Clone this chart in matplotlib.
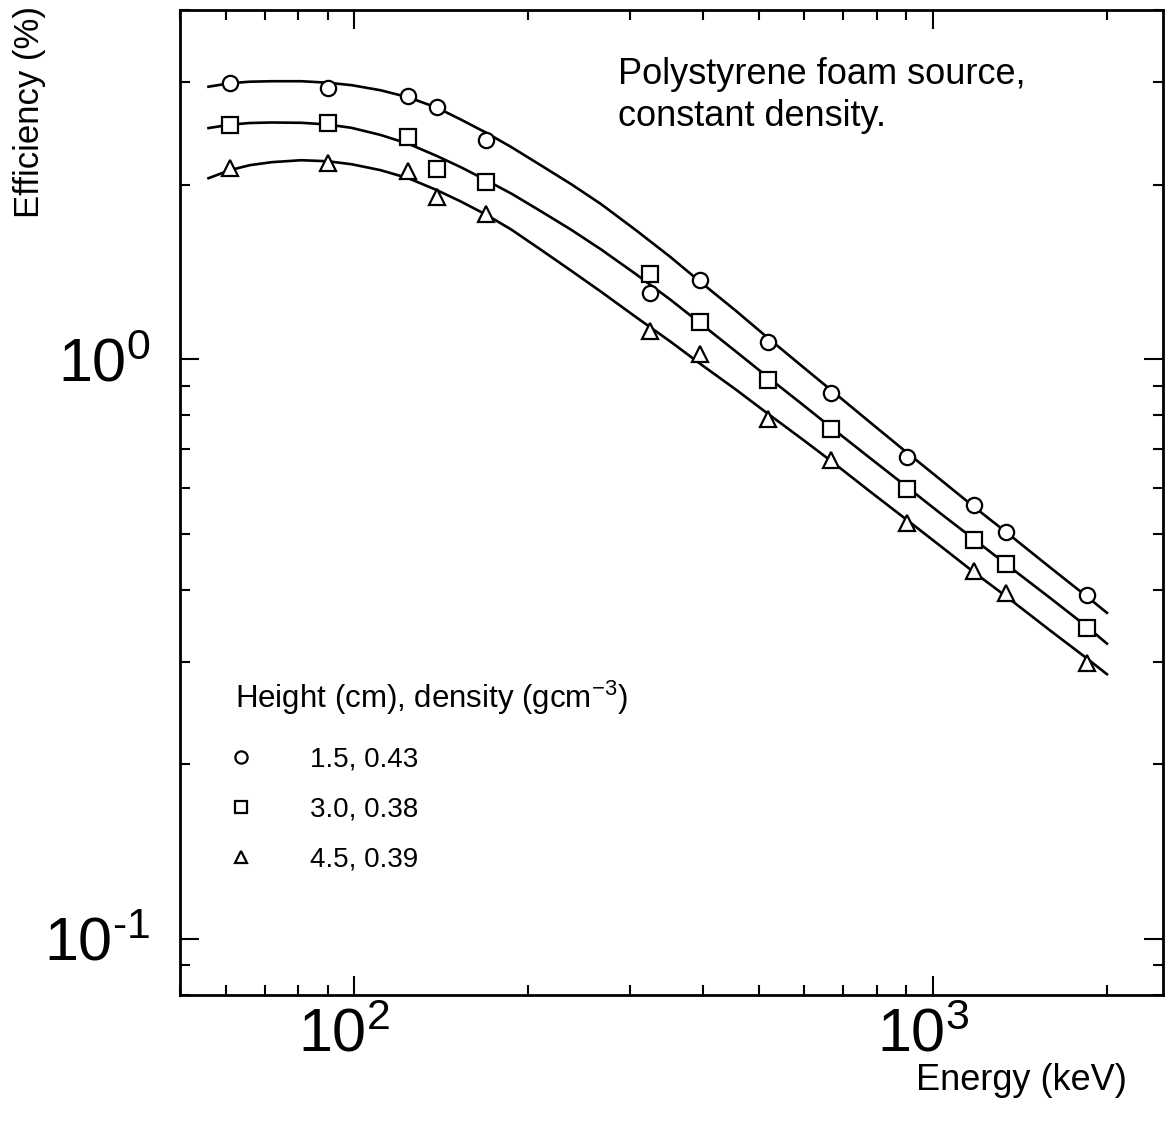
import numpy as np
import matplotlib
matplotlib.use("Agg")
import matplotlib.pyplot as plt
from matplotlib.ticker import LogLocator, NullFormatter, FuncFormatter
from matplotlib.transforms import ScaledTranslation

plt.rcParams['font.family'] = ['Liberation Sans', 'DejaVu Sans']
plt.rcParams['mathtext.default'] = 'regular'

# Gamma-ray energies of the calibration lines (keV)
energy = [61, 90, 124, 139, 169, 324, 396, 518, 667, 902, 1180, 1340, 1845]

# Measured full-energy-peak efficiencies (%) for each source height
eff_15 = [2.99, 2.93, 2.84, 2.72, 2.39, 1.30, 1.37, 1.07, 0.874, 0.678, 0.560, 0.503, 0.392]
eff_30 = [2.53, 2.55, 2.42, 2.13, 2.02, 1.40, 1.158, 0.920, 0.758, 0.597, 0.487, 0.443, 0.344]
eff_45 = [2.14, 2.18, 2.11, 1.90, 1.78, 1.118, 1.02, 0.788, 0.670, 0.521, 0.431, 0.395, 0.299]

# Fitted efficiency curves
fit_energy = [56, 61, 66, 72, 81, 90, 99, 111, 124, 139, 153, 169, 187, 210, 237, 267, 306, 352,
              396, 456, 517, 590, 670, 779, 902, 1028, 1181, 1342, 1591, 1843, 2000]
fit_15 = [2.950, 2.991, 3.009, 3.015, 3.015, 2.997, 2.968, 2.909, 2.829, 2.714, 2.588, 2.458,
          2.320, 2.160, 2.004, 1.851, 1.672, 1.500, 1.360, 1.213, 1.091, 0.978, 0.881, 0.778,
          0.690, 0.621, 0.555, 0.502, 0.438, 0.390, 0.365]
fit_30 = [2.503, 2.537, 2.554, 2.559, 2.556, 2.539, 2.505, 2.436, 2.352, 2.240, 2.142, 2.035,
          1.929, 1.800, 1.672, 1.546, 1.404, 1.266, 1.154, 1.032, 0.933, 0.841, 0.760, 0.675,
          0.602, 0.543, 0.488, 0.442, 0.388, 0.346, 0.323]
fit_45 = [2.051, 2.118, 2.160, 2.186, 2.203, 2.194, 2.168, 2.118, 2.051, 1.956, 1.869, 1.775,
          1.672, 1.545, 1.421, 1.307, 1.184, 1.072, 0.982, 0.887, 0.807, 0.732, 0.665, 0.591,
          0.528, 0.477, 0.428, 0.389, 0.341, 0.305, 0.286]

labels = ['1.5, 0.43', '3.0, 0.38', '4.5, 0.39']
markers = ['o', 's', '^']


def decade_label(v, pos):
    # plain hyphen in the exponent, as in the printed axis
    exp = int(round(np.log10(v)))
    return '$10^{%s}$' % str(exp).replace('-', '\u2010')


fig = plt.figure(figsize=(11.69, 11.28), dpi=100)
ax = fig.add_axes([0.154, 0.1179, 0.8409, 0.8732])
ax.set_xscale('log')
ax.set_yscale('log')

for fit in (fit_15, fit_30, fit_45):
    ax.plot(fit_energy, fit, color='black', lw=1.9, solid_joinstyle='round', zorder=2)

for eff, mk, lab in zip((eff_15, eff_30, eff_45), markers, labels):
    ax.plot(energy, eff, linestyle='none', marker=mk, ms=11, mfc='white', mec='black',
            mew=1.6, label=lab, zorder=3)

ax.set_xlim(50, 2500)
ax.set_ylim(0.08, 4.0)

# Ticks inside on all four sides
for axis in (ax.xaxis, ax.yaxis):
    axis.set_major_locator(LogLocator(base=10))
    axis.set_minor_locator(LogLocator(base=10, subs=np.arange(2, 10)))
    axis.set_major_formatter(FuncFormatter(decade_label))
    axis.set_minor_formatter(NullFormatter())
ax.tick_params(which='both', direction='in', top=True, right=True, width=1.5)
ax.tick_params(which='major', length=14, labelsize=44)
ax.tick_params(which='minor', length=7)
ax.tick_params(axis='x', which='major', pad=9)
ax.tick_params(axis='y', which='major', pad=21)
for sp in ax.spines.values():
    sp.set_linewidth(2)

# nudge the energy decade labels a little to the left
shift = ScaledTranslation(-10 / 100, 0, fig.dpi_scale_trans)
for tick in ax.xaxis.get_major_ticks():
    tick.label1.set_transform(tick.label1.get_transform() + shift)

ax.set_xlabel('Energy (keV)', fontsize=26, ha='right', va='center')
ax.xaxis.set_label_coords(0.963, -0.087)
ax.set_ylabel('Efficiency (%)', fontsize=25, ha='center', va='center')
ax.yaxis.set_label_coords(-0.153, 0.896)

ax.text(0.4456, 0.952, 'Polystyrene foam source,\nconstant density.', transform=ax.transAxes,
        fontsize=26, ha='left', va='top', linespacing=1.26)

# Key for the three source configurations
ax.text(0.056, 0.3015, 'Height (cm), density (gcm$^{-3}$)', transform=ax.transAxes,
        fontsize=22.5, ha='left', va='center')
leg = ax.legend(loc='upper left', bbox_to_anchor=(0.056, 0.2518), frameon=False, fontsize=20,
                handlelength=0.4, handletextpad=2.3, labelspacing=0.86, markerscale=0.8,
                borderpad=0, borderaxespad=0)

fig.savefig('out.png', dpi=100)
